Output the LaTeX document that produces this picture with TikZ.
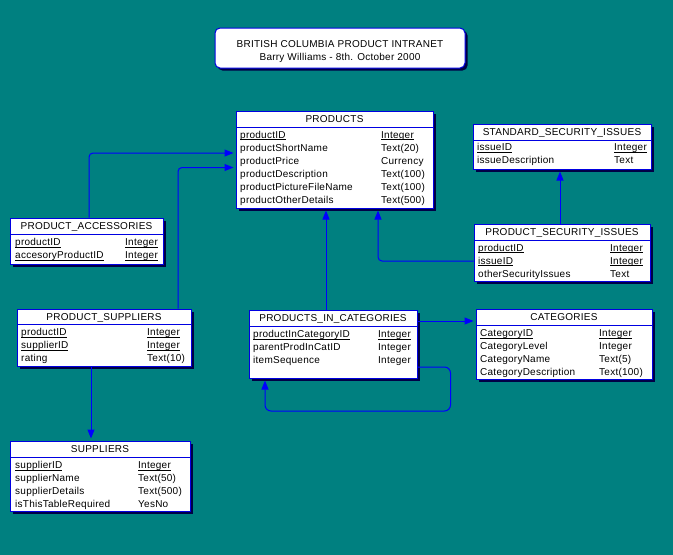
\documentclass[tikz,border=0pt]{standalone}
\usepackage{fontspec}
\setmainfont[LetterSpace=2.5]{Liberation Sans}
\usetikzlibrary{fit,shadows,arrows.meta}
\definecolor{bg}{RGB}{0,128,128}
\definecolor{erblue}{RGB}{0,0,225}
\definecolor{lnblue}{RGB}{0,0,255}
\definecolor{shd}{RGB}{0,0,70}
\newcommand{\ulx}[1]{\underline{\smash{#1}}}
\tikzset{
  tbl/.style={draw=erblue, fill=white, line width=1pt, inner sep=0pt,
    drop shadow={shadow xshift=2.5pt, shadow yshift=-2.5pt, fill=shd, opacity=1}},
  titlebox/.style={tbl, rounded corners=5pt},
  hdr/.style={anchor=base, inner sep=0pt, font=\fontsize{10}{12}\selectfont},
  cell/.style={anchor=base west, inner sep=0pt, font=\fontsize{10}{12}\selectfont},
  conn/.style={draw=lnblue, line width=1pt, rounded corners=4pt,
    -{Triangle[length=9pt,width=7pt]}, shorten >=2pt},
}
% name, x1, y1, x2, y2, yline, title
\newcommand{\erbox}[7]{%
  \node[tbl, fit={(#2,#3) (#4,#5)}] (#1) {};
  \draw[erblue, line width=1pt] (#2,#6) -- (#4,#6);
  \node[hdr] (#1-title) at ({(#2+#4)/2},{(#3+#6)/2+3.5}) {#7};
}
% id, y, x1, text1, x2, text2
\newcommand{\errow}[6]{%
  \node[cell] (#1a) at (#3,#2+3.5) {#4};
  \node[cell] (#1b) at (#5,#2+3.5) {#6};
}
\begin{document}
\begin{tikzpicture}[x=1pt,y=-1pt]
\fill[bg] (0,0) rectangle (673,555);
\useasboundingbox (0,0) rectangle (673,555);

% title
\node[titlebox, fit={(215,28) (465,68)}] (title) {};
\node[hdr] (t1) at (340,44+3.5) {BRITISH COLUMBIA PRODUCT INTRANET};
\node[hdr] (t2) at (340,57+3.5) {Barry Williams - 8th. October 2000};

% PRODUCTS
\erbox{prod}{236}{111}{433}{208}{127.5}{PRODUCTS}
\errow{p1}{134.5}{240}{\ulx{productID}}{381}{\ulx{Integer}}
\errow{p2}{147.5}{240}{productShortName}{381}{Text(20)}
\errow{p3}{160.5}{240}{productPrice}{381}{Currency}
\errow{p4}{173.5}{240}{productDescription}{381}{Text(100)}
\errow{p5}{186.5}{240}{productPictureFileName}{381}{Text(100)}
\errow{p6}{199.5}{240}{productOtherDetails}{381}{Text(500)}

% STANDARD_SECURITY_ISSUES
\erbox{std}{473}{124}{651}{169}{140}{STANDARD\_SECURITY\_ISSUES}
\errow{s1}{147}{477}{\ulx{issueID}}{614}{\ulx{Integer}}
\errow{s2}{160}{477}{issueDescription}{614}{Text}

% PRODUCT_SECURITY_ISSUES
\erbox{psi}{474}{224}{650}{281}{240.5}{PRODUCT\_SECURITY\_ISSUES}
\errow{q1}{247.5}{478}{\ulx{productID}}{610}{\ulx{Integer}}
\errow{q2}{260.5}{478}{\ulx{issueID}}{610}{\ulx{Integer}}
\errow{q3}{273.5}{478}{otherSecurityIssues}{610}{Text}

% PRODUCT_ACCESSORIES
\erbox{acc}{10}{218}{163}{264}{234}{PRODUCT\_ACCESSORIES}
\errow{a1}{242}{15}{\ulx{productID}}{125}{\ulx{Integer}}
\errow{a2}{255}{15}{\ulx{accesoryProductID}}{125}{\ulx{Integer}}

% PRODUCT_SUPPLIERS
\erbox{sup}{17}{309}{191}{366}{324}{PRODUCT\_SUPPLIERS}
\errow{u1}{332}{21}{\ulx{productID}}{147}{\ulx{Integer}}
\errow{u2}{345}{21}{\ulx{supplierID}}{147}{\ulx{Integer}}
\errow{u3}{358}{21}{rating}{147}{Text(10)}

% PRODUCTS_IN_CATEGORIES
\erbox{pic}{249}{310}{417}{378}{326}{PRODUCTS\_IN\_CATEGORIES}
\errow{c1}{334}{253}{\ulx{productInCategoryID}}{378}{\ulx{Integer}}
\errow{c2}{347}{253}{parentProdInCatID}{378}{Integer}
\errow{c3}{360}{253}{itemSequence}{378}{Integer}

% CATEGORIES
\erbox{cat}{476}{309}{652}{379}{325}{CATEGORIES}
\errow{k1}{333}{480}{\ulx{CategoryID}}{599}{\ulx{Integer}}
\errow{k2}{346}{480}{CategoryLevel}{599}{Integer}
\errow{k3}{359}{480}{CategoryName}{599}{Text(5)}
\errow{k4}{372}{480}{CategoryDescription}{599}{Text(100)}

% SUPPLIERS
\erbox{spl}{10}{441}{190}{511}{457}{SUPPLIERS}
\errow{r1}{465}{15}{\ulx{supplierID}}{138}{\ulx{Integer}}
\errow{r2}{478}{15}{supplierName}{138}{Text(50)}
\errow{r3}{491}{15}{supplierDetails}{138}{Text(500)}
\errow{r4}{504}{15}{isThisTableRequired}{138}{YesNo}

% connectors
\draw[conn] ([xshift=2.5pt]acc.north) |- ([yshift=6.5pt]prod.west);
\draw[conn] ([xshift=74pt]sup.north) |- ([yshift=-8pt]prod.west);
\draw[conn] ([xshift=-7pt]pic.north) -- ([xshift=-8.5pt]prod.south);
\draw[conn] ([yshift=-8.5pt]psi.west) -| ([xshift=43.5pt]prod.south);
\draw[conn] ([xshift=-2pt]psi.north) -- ([xshift=-2pt]std.south);
\draw[conn] ([yshift=23pt]pic.east) -- ([yshift=23pt]cat.west);
\draw[conn, rounded corners=6pt] ([yshift=-23pt]pic.east) -- ++(33,0) -- ++(0,44) -| ([xshift=-68pt]pic.south);
\draw[conn] ([xshift=-13pt]sup.south) -- ([xshift=-9pt]spl.north);
\end{tikzpicture}
\end{document}
